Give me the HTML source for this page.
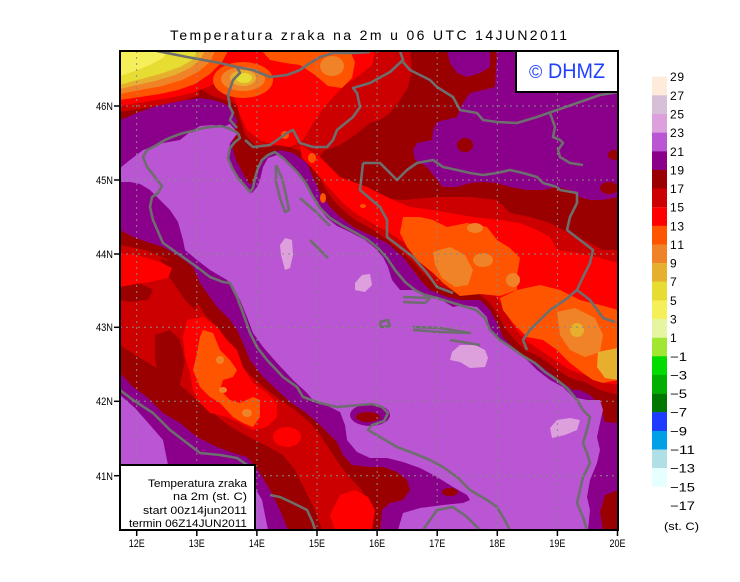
<!DOCTYPE html>
<html><head><meta charset="utf-8"><style>
html,body{margin:0;padding:0;background:#fff;}
svg{display:block;}
text{font-family:"Liberation Sans",sans-serif;}
</style></head><body>
<svg width="740" height="582" viewBox="0 0 740 582" xmlns="http://www.w3.org/2000/svg">
<rect x="0" y="0" width="740" height="582" fill="#fff"/>
<text x="170" y="40" font-size="14" textLength="397" lengthAdjust="spacing" fill="#000">Temperatura zraka na 2m u 06 UTC 14JUN2011</text>
<defs><clipPath id="cp"><rect x="120" y="51" width="498" height="479"/></clipPath></defs>
<g clip-path="url(#cp)">
<rect x="120" y="51" width="498" height="479" fill="#8B008B"/>
<polygon fill="#9B0000" points="120,51 447,51 450,63 457,73 467,77 480,73 490,67 490,51 497,51 495,87 483,90 470,93 465,100 460,108 457,117 437,122 433,130 432,140 417,143 413,150 415,160 427,167 437,180 443,187 457,187 470,183 483,182 497,183 510,187 527,190 543,190 557,187 570,190 580,197 590,200 603,200 618,197 618,423 605,422 600,405 590,395 580,390 573,390 563,383 550,373 537,363 523,357 513,347 503,337 497,323 490,310 480,300 460,300 447,297 430,290 423,283 413,270 403,257 387,243 370,235 353,227 340,217 330,207 320,193 313,177 307,163 293,153 280,150 265,157 257,167 254,180 250,185 244,175 236,160 232,145 235,130 237,120 233,113 230,107 223,103 213,100 200,98 187,100 170,103 153,107 137,113 120,120"/>
<ellipse cx="465" cy="145" rx="8" ry="7" fill="#9B0000"/>
<ellipse cx="609" cy="188" rx="9" ry="6" fill="#9B0000"/>
<ellipse cx="614" cy="155" rx="6" ry="5" fill="#9B0000"/>
<polygon fill="#9B0000" points="605,495 618,490 618,530 603,530 600,512"/>
<polygon fill="#9B0000" points="120,230 133,237 147,242 163,247 180,257 193,267 200,283 207,293 217,307 230,320 237,330 243,343 250,360 263,377 277,390 290,402 305,412 318,423 327,432 337,442 343,455 352,465 370,467 383,467 397,472 407,480 410,490 403,500 390,503 382,510 380,530 288,530 280,510 270,490 258,470 247,457 233,453 217,447 197,437 180,423 163,413 147,397 133,387 120,373"/>
<ellipse cx="450" cy="492" rx="8" ry="4" fill="#9B0000"/>
<polygon fill="#BA55D3" points="120,168 130,160 143,150 163,143 180,140 190,132 200,126 213,125 223,127 230,124 238,133 230,143 228,160 233,170 240,180 245,187 252,193 257,187 260,180 263,167 268,158 277,155 287,162 293,167 302,177 307,183 312,193 317,205 327,218 337,226 350,232 365,240 375,248 383,257 388,267 392,280 400,290 413,290 437,297 453,307 463,305 477,307 487,317 490,330 503,343 517,353 527,360 537,370 550,380 563,387 573,397 587,400 600,400 603,410 600,423 597,437 600,450 597,463 590,480 587,497 590,510 588,530 398,530 400,523 403,513 420,508 443,505 463,503 470,500 467,495 453,487 437,477 420,468 403,462 387,458 370,458 357,452 347,440 345,425 340,412 330,407 320,402 313,400 307,393 293,380 277,363 263,347 253,333 247,317 240,300 233,287 227,280 210,270 197,260 185,250 183,240 178,222 170,210 160,200 150,190 140,184 130,182 120,182"/>
<polygon fill="#BA55D3" points="120,395 135,408 150,425 163,440 168,465 255,465 255,488 262,500 268,530 120,530"/>
<ellipse cx="370" cy="415" rx="20" ry="11" fill="#8B008B"/>
<ellipse cx="368" cy="417" rx="12" ry="5" fill="#9B0000"/>
<polygon fill="#DDA0DD" points="285,238 292,240 293,255 290,268 285,270 281,255 280,245"/>
<polygon fill="#DDA0DD" points="452,352 460,345 475,345 485,350 488,358 485,367 470,368 460,362 450,360"/>
<polygon fill="#DDA0DD" points="550,428 557,420 570,418 580,420 577,430 565,435 552,438"/>
<polygon fill="#DDA0DD" points="355,283 362,275 370,274 372,285 365,292 355,290"/>
<polygon fill="#CC0000" points="120,245 145,250 165,258 180,270 188,285 195,300 205,315 220,330 228,345 236,360 250,375 265,388 280,400 295,410 310,423 320,435 330,450 340,465 350,478 362,490 368,505 372,530 322,530 315,510 305,490 295,470 283,455 265,445 245,435 225,423 210,410 195,398 180,385 160,370 140,358 120,345"/>
<polygon fill="#CC0000" points="190,51 410,51 412,70 408,87 400,100 390,113 380,120 370,123 355,135 340,145 325,150 317,160 320,175 335,185 355,190 370,197 403,200 437,197 470,197 497,200 510,213 530,217 550,223 563,230 577,237 590,243 603,250 618,250 618,395 600,390 585,382 570,378 555,368 540,357 525,350 515,340 505,328 498,315 490,303 478,293 460,292 445,288 432,282 422,272 413,262 400,250 385,238 370,228 355,220 343,210 333,200 325,188 318,172 312,160 302,152 290,147 278,145 265,148 255,145 245,135 240,118 238,105 225,100 210,95 195,85 190,70"/>
<polygon fill="#9B0000" points="160,258 170,262 182,270 192,285 198,300 195,310 185,300 175,285 165,272"/>
<polygon fill="#9B0000" points="155,335 170,330 180,340 185,360 180,385 170,395 160,385 155,360"/>
<polygon fill="#9B0000" points="120,283 140,283 153,290 148,300 130,302 120,300"/>
<polygon fill="#FF0000" points="120,253 140,256 160,262 172,268 168,278 150,282 130,285 120,287"/>
<polygon fill="#FF0000" points="187,320 203,317 217,327 227,340 237,350 243,367 253,383 267,393 277,403 277,417 267,427 253,430 240,423 227,417 210,413 200,403 193,390 190,373 185,357 183,337"/>
<ellipse cx="287" cy="437" rx="14" ry="10" fill="#FF0000"/>
<polygon fill="#FF0000" points="340,495 355,490 368,497 375,510 372,530 335,530 330,515"/>
<polygon fill="#FF0000" points="230,51 375,51 372,65 360,75 345,85 335,95 322,110 312,125 303,140 290,147 275,145 260,140 247,130 240,115 235,100 228,85 226,65"/>
<polygon fill="#FF0000" points="300,145 320,157 340,177 367,187 393,200 410,207 433,210 450,213 473,217 500,220 520,223 537,230 550,237 557,250 577,253 597,257 618,263 618,385 600,382 585,375 570,370 555,360 540,350 528,342 518,332 510,320 503,305 495,295 480,285 462,285 447,280 435,272 425,262 415,250 400,240 385,230 370,222 355,213 343,203 333,192 322,180 312,168 302,158"/>
<polygon fill="#CC0000" points="120,51 190,51 195,85 200,95 185,100 165,104 145,108 120,112"/>
<polygon fill="#FF0000" points="120,51 230,51 225,75 212,85 195,92 175,97 150,101 120,106"/>
<polygon fill="#FF5500" points="120,51 228,51 222,62 210,74 195,84 178,90 160,94 140,97 120,100"/>
<polygon fill="#F08228" points="120,51 215,51 210,62 198,72 182,80 162,86 140,90 120,94"/>
<polygon fill="#E6AF2D" points="120,51 205,51 200,60 190,68 175,75 155,81 137,85 120,89"/>
<polygon fill="#E6DC32" points="120,51 198,51 192,60 180,67 163,73 145,78 130,82 120,85"/>
<polygon fill="#F5F05A" points="120,51 168,51 163,58 150,65 135,71 120,76"/>
<ellipse cx="243" cy="80" rx="30" ry="18" fill="#FF5500"/>
<ellipse cx="243" cy="79" rx="22" ry="12" fill="#F08228"/>
<ellipse cx="243" cy="78" rx="13" ry="8" fill="#E6AF2D"/>
<ellipse cx="244" cy="78" rx="8" ry="5" fill="#E6DC32"/>
<polygon fill="#FF5500" points="262,51 350,51 355,62 352,78 342,88 328,86 315,75 300,65 285,63 270,60"/>
<ellipse cx="332" cy="66" rx="12" ry="10" fill="#F08228"/>
<ellipse cx="285" cy="135" rx="4" ry="4" fill="#FF5500"/>
<ellipse cx="312" cy="158" rx="4" ry="5" fill="#FF5500"/>
<ellipse cx="323" cy="198" rx="3" ry="5" fill="#FF5500"/>
<ellipse cx="363" cy="206" rx="3" ry="2" fill="#FF5500"/>
<polygon fill="#FF5500" points="203,330 213,333 220,350 230,360 237,370 233,377 223,380 220,390 230,400 240,403 253,397 260,400 260,417 253,427 243,423 233,417 220,403 210,397 200,387 193,370 197,353 200,337"/>
<ellipse cx="220" cy="360" rx="4" ry="4" fill="#F08228"/>
<ellipse cx="223" cy="390" rx="4" ry="3" fill="#F08228"/>
<ellipse cx="247" cy="413" rx="5" ry="4" fill="#F08228"/>
<polygon fill="#FF5500" points="403,217 420,217 433,220 447,227 467,223 487,227 497,240 510,248 520,258 517,275 517,290 500,296 480,294 460,296 443,283 433,273 417,260 407,247 400,233"/>
<polygon fill="#FF5500" points="517,290 540,285 560,290 580,300 600,305 618,310 618,380 603,383 593,380 583,373 570,363 557,350 543,340 527,337 513,323 503,310 500,298"/>
<polygon fill="#F08228" points="433,252 450,247 465,255 473,270 468,285 455,287 442,278 435,265"/>
<ellipse cx="475" cy="228" rx="8" ry="5" fill="#F08228"/>
<ellipse cx="483" cy="260" rx="10" ry="7" fill="#F08228"/>
<ellipse cx="513" cy="280" rx="7" ry="7" fill="#F08228"/>
<polygon fill="#F08228" points="557,312 575,308 595,318 603,335 600,352 585,357 570,350 560,335"/>
<ellipse cx="577" cy="330" rx="7" ry="7" fill="#E6AF2D"/>
<polygon fill="#E6AF2D" points="598,352 618,348 618,380 605,378 597,367"/>
<g fill="none" stroke="#6E6E6E" stroke-width="2.6" stroke-linejoin="round">
<polyline points="238,133 228,128 220,126 212,127 203,128 193,131 183,133 172,137 165,140 155,146 147,150 143,157 147,167 152,173 157,180 162,186 158,193 152,197 150,207 153,220 163,243 180,255 197,267 210,277 223,282 230,283 237,297 243,313 250,333 257,347 267,360 283,377 297,387 303,397 320,403 337,407 360,405 372,404 382,407 388,413 384,421 372,425 368,430 380,437 397,447 413,453 430,460 443,467 457,477 470,490 487,500 497,507 503,517 510,530"/>
<polyline points="423,530 437,510 453,507 467,517 480,530"/>
<polyline points="120,390 133,400 153,413 170,430 187,443 200,453 220,455 237,458 250,467 255,470"/>
<polyline points="270,495 280,497 293,503 307,510 313,523 315,530"/>
<polyline points="238,133 240,138 235,142 230,148 228,158 232,168 238,178 245,186 250,192 253,188 255,178 258,168 262,160 268,155 275,152 283,158 290,165 298,173 305,182 312,195 320,208 330,218 343,226 356,233 368,240 378,248 387,258 395,270 405,282 415,290 425,295 437,298 450,302 463,306 476,310 485,318 490,330 500,340 512,348 523,356 535,363 545,372 557,380 567,388 577,400 583,410 590,417 587,430 583,443 587,453 590,463 583,477 580,490 577,503 583,517 587,530"/>
<polyline points="276,165 282,178 286,195 289,210 285,212 280,198 276,182 276,165"/>
<polyline points="300,198 316,212 330,226"/>
<polyline points="310,240 320,250 328,258"/>
<polyline points="403,297 430,298 425,303 403,302"/>
<polyline points="413,327 440,328 470,333 440,332 413,330"/>
<polyline points="450,340 480,345"/>
<polyline points="380,322 388,320 390,326 381,327 380,322"/>
<polyline points="157,51 187,57 220,63 237,67 253,70 270,77 287,75 300,70 310,63 320,57 333,53 353,53 370,52"/>
<polyline points="237,67 240,73 233,80 228,95 230,107 233,113 230,120 237,128"/>
<polyline points="245,140 253,147 270,145 287,133 293,130 300,143 313,147 327,147 333,140 337,130 353,117 360,107 357,93 353,88 370,83 390,72 403,60 400,51"/>
<polyline points="403,62 410,70 430,80 437,87 453,97 460,110 477,113 483,120 497,122 517,123 537,117 557,110 580,102 600,95 618,92"/>
<polyline points="363,163 380,163 397,180 407,170 417,163 433,160 443,167 457,170 470,173 483,175 497,173 510,170 523,173 537,177 543,183 557,187"/>
<polyline points="363,163 360,190 380,207 387,220 387,237 400,247 413,257 427,273 437,287 453,293"/>
<polyline points="550,113 555,127 553,137 560,140 563,143 558,150 560,157 570,163 583,165"/>
<polyline points="557,187 560,190 577,193 577,203 570,217 567,230 580,240 593,250 590,263 583,277 577,290 565,300 550,310 540,320 530,330 523,340 527,350"/>
<polyline points="577,290 590,300 603,318 615,322"/>
</g>
<g stroke="#8a8a8a" stroke-width="1" stroke-dasharray="2 4" fill="none">
<line x1="136.7" y1="51" x2="136.7" y2="530"/>
<line x1="196.8" y1="51" x2="196.8" y2="530"/>
<line x1="256.9" y1="51" x2="256.9" y2="530"/>
<line x1="317" y1="51" x2="317" y2="530"/>
<line x1="377.1" y1="51" x2="377.1" y2="530"/>
<line x1="437.2" y1="51" x2="437.2" y2="530"/>
<line x1="497.3" y1="51" x2="497.3" y2="530"/>
<line x1="557.4" y1="51" x2="557.4" y2="530"/>
<line x1="120" y1="106" x2="618" y2="106"/>
<line x1="120" y1="180" x2="618" y2="180"/>
<line x1="120" y1="254" x2="618" y2="254"/>
<line x1="120" y1="327.3" x2="618" y2="327.3"/>
<line x1="120" y1="401.3" x2="618" y2="401.3"/>
<line x1="120" y1="475.7" x2="618" y2="475.7"/>
</g>
</g>
<rect x="516" y="51" width="102" height="41" fill="#fff" stroke="#000" stroke-width="2"/>
<text x="529" y="78" font-size="18" fill="#2040FF">©</text>
<text x="548" y="78" font-size="21" fill="#2040FF" textLength="57" lengthAdjust="spacingAndGlyphs">DHMZ</text>
<rect x="120" y="465" width="135" height="65" fill="#fff" stroke="#000" stroke-width="2"/>
<g font-size="11" fill="#000" text-anchor="end">
<text x="247" y="487" textLength="99" lengthAdjust="spacingAndGlyphs">Temperatura zraka</text>
<text x="247" y="500" textLength="74" lengthAdjust="spacingAndGlyphs">na 2m (st. C)</text>
<text x="247" y="514" textLength="104" lengthAdjust="spacingAndGlyphs">start 00z14jun2011</text>
<text x="247" y="527" textLength="118" lengthAdjust="spacingAndGlyphs">termin 06Z14JUN2011</text>
</g>
<rect x="120" y="51" width="498" height="479" fill="none" stroke="#000" stroke-width="2"/>
<g stroke="#000" stroke-width="1.5">
<line x1="114" y1="106" x2="120" y2="106"/><line x1="114" y1="180" x2="120" y2="180"/><line x1="114" y1="254" x2="120" y2="254"/>
<line x1="114" y1="327.3" x2="120" y2="327.3"/><line x1="114" y1="401.3" x2="120" y2="401.3"/><line x1="114" y1="475.7" x2="120" y2="475.7"/>
<line x1="136.7" y1="530" x2="136.7" y2="536"/><line x1="196.8" y1="530" x2="196.8" y2="536"/><line x1="256.9" y1="530" x2="256.9" y2="536"/>
<line x1="317" y1="530" x2="317" y2="536"/><line x1="377.1" y1="530" x2="377.1" y2="536"/><line x1="437.2" y1="530" x2="437.2" y2="536"/>
<line x1="497.3" y1="530" x2="497.3" y2="536"/><line x1="557.4" y1="530" x2="557.4" y2="536"/><line x1="617.5" y1="530" x2="617.5" y2="536"/>
</g>
<g font-size="11" fill="#000" text-anchor="end">
<text x="113" y="110" textLength="17" lengthAdjust="spacingAndGlyphs">46N</text>
<text x="113" y="184" textLength="17" lengthAdjust="spacingAndGlyphs">45N</text>
<text x="113" y="258" textLength="17" lengthAdjust="spacingAndGlyphs">44N</text>
<text x="113" y="331" textLength="17" lengthAdjust="spacingAndGlyphs">43N</text>
<text x="113" y="405" textLength="17" lengthAdjust="spacingAndGlyphs">42N</text>
<text x="113" y="480" textLength="17" lengthAdjust="spacingAndGlyphs">41N</text>
</g>
<g font-size="11" fill="#000">
<text x="128.7" y="547" textLength="16" lengthAdjust="spacingAndGlyphs">12E</text>
<text x="188.8" y="547" textLength="16" lengthAdjust="spacingAndGlyphs">13E</text>
<text x="248.9" y="547" textLength="16" lengthAdjust="spacingAndGlyphs">14E</text>
<text x="309" y="547" textLength="16" lengthAdjust="spacingAndGlyphs">15E</text>
<text x="369.1" y="547" textLength="16" lengthAdjust="spacingAndGlyphs">16E</text>
<text x="429.2" y="547" textLength="16" lengthAdjust="spacingAndGlyphs">17E</text>
<text x="489.3" y="547" textLength="16" lengthAdjust="spacingAndGlyphs">18E</text>
<text x="549.4" y="547" textLength="16" lengthAdjust="spacingAndGlyphs">19E</text>
<text x="609.5" y="547" textLength="16" lengthAdjust="spacingAndGlyphs">20E</text>
</g>
<g>
<rect x="652" y="76.7" width="15" height="18.8" fill="#FFEBDA"/>
<rect x="652" y="95.3" width="15" height="18.8" fill="#D8BFD8"/>
<rect x="652" y="114.0" width="15" height="18.8" fill="#DDA0DD"/>
<rect x="652" y="132.6" width="15" height="18.8" fill="#BA55D3"/>
<rect x="652" y="151.3" width="15" height="18.8" fill="#8B008B"/>
<rect x="652" y="169.9" width="15" height="18.8" fill="#9B0000"/>
<rect x="652" y="188.5" width="15" height="18.8" fill="#CC0000"/>
<rect x="652" y="207.2" width="15" height="18.8" fill="#FF0000"/>
<rect x="652" y="225.8" width="15" height="18.8" fill="#FF5500"/>
<rect x="652" y="244.5" width="15" height="18.8" fill="#F08228"/>
<rect x="652" y="263.1" width="15" height="18.8" fill="#E6AF2D"/>
<rect x="652" y="281.7" width="15" height="18.8" fill="#E6DC32"/>
<rect x="652" y="300.4" width="15" height="18.8" fill="#F5F05A"/>
<rect x="652" y="319.0" width="15" height="18.8" fill="#E6F5A0"/>
<rect x="652" y="337.7" width="15" height="18.8" fill="#A0E632"/>
<rect x="652" y="356.3" width="15" height="18.8" fill="#00DC00"/>
<rect x="652" y="374.9" width="15" height="18.8" fill="#00AF00"/>
<rect x="652" y="393.6" width="15" height="18.8" fill="#007800"/>
<rect x="652" y="412.2" width="15" height="18.8" fill="#1E3CFF"/>
<rect x="652" y="430.9" width="15" height="18.8" fill="#00A0E6"/>
<rect x="652" y="449.5" width="15" height="18.8" fill="#B0E0E6"/>
<rect x="652" y="468.1" width="15" height="18.7" fill="#E6FFFF"/>
</g>
<g font-size="12" fill="#000">
<text x="670" y="81.2" textLength="14">29</text>
<text x="670" y="99.8" textLength="14">27</text>
<text x="670" y="118.5" textLength="14">25</text>
<text x="670" y="137.1" textLength="14">23</text>
<text x="670" y="155.8" textLength="14">21</text>
<text x="670" y="174.4" textLength="14">19</text>
<text x="670" y="193.0" textLength="14">17</text>
<text x="670" y="211.7" textLength="14">15</text>
<text x="670" y="230.3" textLength="14">13</text>
<text x="670" y="249.0" textLength="14">11</text>
<text x="670" y="267.6">9</text>
<text x="670" y="286.2">7</text>
<text x="670" y="304.9">5</text>
<text x="670" y="323.5">3</text>
<text x="670" y="342.2">1</text>
<text x="670" y="360.8" textLength="17" lengthAdjust="spacingAndGlyphs">−1</text>
<text x="670" y="379.4" textLength="17" lengthAdjust="spacingAndGlyphs">−3</text>
<text x="670" y="398.1" textLength="17" lengthAdjust="spacingAndGlyphs">−5</text>
<text x="670" y="416.7" textLength="17" lengthAdjust="spacingAndGlyphs">−7</text>
<text x="670" y="435.4" textLength="17" lengthAdjust="spacingAndGlyphs">−9</text>
<text x="670" y="454.0" textLength="25" lengthAdjust="spacingAndGlyphs">−11</text>
<text x="670" y="472.6" textLength="25" lengthAdjust="spacingAndGlyphs">−13</text>
<text x="670" y="491.3" textLength="25" lengthAdjust="spacingAndGlyphs">−15</text>
<text x="670" y="509.9" textLength="25" lengthAdjust="spacingAndGlyphs">−17</text>
</g>
<text x="664" y="530" font-size="11" fill="#000" textLength="35" lengthAdjust="spacingAndGlyphs">(st. C)</text>
</svg>
</body></html>
